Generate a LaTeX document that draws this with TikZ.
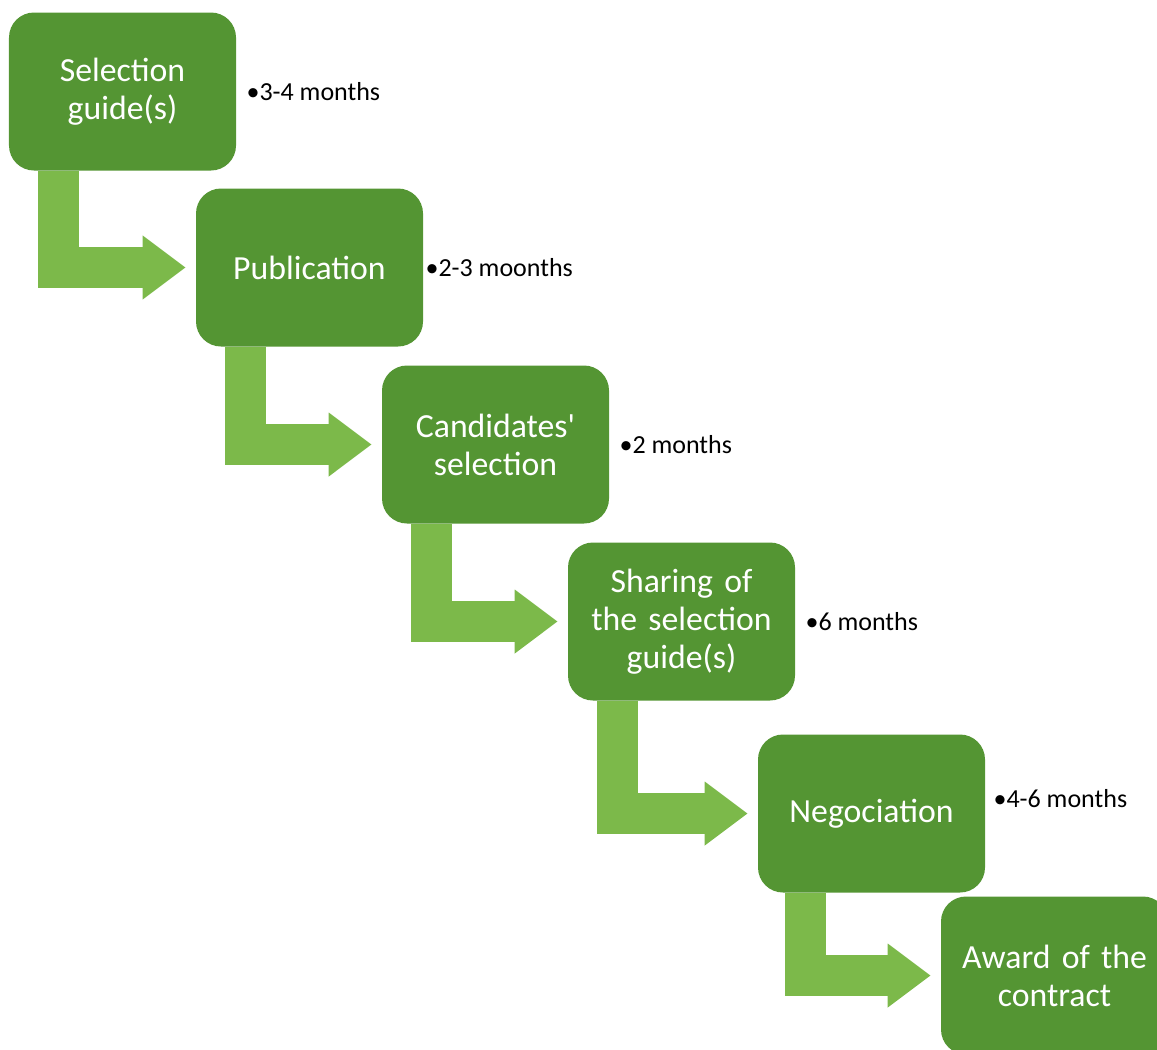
\documentclass[tikz,border=0pt]{standalone}
\usepackage{fontspec}
\setmainfont{Carlito}
\usetikzlibrary{positioning,arrows.meta,calc}
\definecolor{boxgreen}{RGB}{84,149,51}
\definecolor{arrowgreen}{RGB}{124,185,74}
\tikzset{
  stage/.style={rectangle, rounded corners=0.625cm, fill=boxgreen, text=white,
    minimum width=5.675cm, minimum height=3.95cm, text width=5.4cm, align=center,
    font=\fontsize{24}{27}\selectfont},
  flow/.style={draw=arrowgreen, line width=1.025cm, shorten >=0.25cm,
    -{Triangle[length=1.075cm,width=1.525cm]}},
  span/.style={anchor=west, inner sep=0pt, font=\fontsize{18.5}{22}\selectfont}
}
\begin{document}
\begin{tikzpicture}
    \useasboundingbox (0,0) rectangle (28.925,-26.225);
    \clip (0,0) rectangle (28.925,-26.225);

    \node[stage] (sel)   at (3.0625,-2.2875)  {Selection\\guide(s)};
    \node[stage] (pub)   at (7.7375,-6.6875)  {Publication};
    \node[stage] (cand)  at (12.3875,-11.1125) {Candidates\textquotesingle\\selection};
    \node[stage] (share) at (17.0375,-15.5375) {Sharing of\\the selection\\guide(s)};
    \node[stage] (nego)  at (21.7875,-20.3375) {Negociation};
    \node[stage] (award) at (26.3625,-24.3875) {Award of the\\contract};

    \node[span, right=0.25cm of sel.east]               (d1) {•3-4 months};
    \node[span, right=0.05cm of pub.east]               (d2) {•2-3 moonths};
    \node[span, right=0.25cm of cand.east]              (d3) {•2 months};
    \node[span, right=0.25cm of share.east]             (d4) {•6 months};
    \node[span, right=0.2cm of nego.east, yshift=0.38cm] (d5) {•4-6 months};

    \draw[flow] ($(sel.south west)+(1.24,0)$)   |- (pub.west);
    \draw[flow] ($(pub.south west)+(1.24,0)$)   |- (cand.west);
    \draw[flow] ($(cand.south west)+(1.24,0)$)  |- (share.west);
    \draw[flow] ($(share.south west)+(1.24,0)$) |- (nego.west);
    \draw[flow] ($(nego.south west)+(1.2,0)$)   |- (award.west);
\end{tikzpicture}
\end{document}
